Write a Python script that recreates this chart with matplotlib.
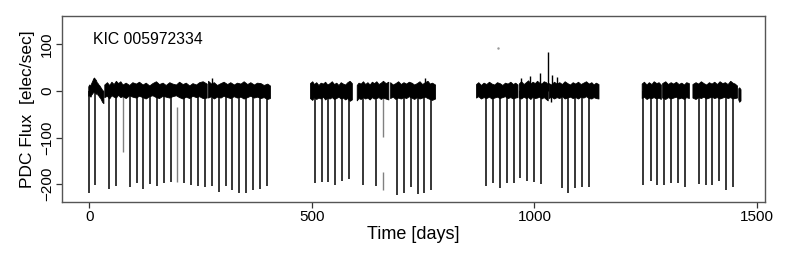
import matplotlib
matplotlib.use("Agg")
import matplotlib.pyplot as plt

plt.rcParams['font.family'] = ['Liberation Sans', 'DejaVu Sans']

# ---- data ----
LABEL = "KIC 005972334"

# noisy out-of-eclipse band: one list per observing segment
BAND_T = [
    [-2, 0, 3, 5, 7, 9, 11, 13, 15, 17, 19, 21, 23, 25, 27, 29, 32],
    [34, 40, 45, 50, 55, 60, 65, 70, 75, 82, 90, 97, 105, 112, 120, 127, 135, 142, 150, 157,
     165, 172, 180, 187, 195, 202, 210, 217, 225, 232, 240, 247, 255, 264],
    [267, 274, 280, 287, 295, 302, 310, 317, 325, 332, 340, 347, 355, 362, 370, 377, 385,
     392, 400, 406],
    [496, 501, 505, 510, 515, 520, 525, 530, 535, 540, 545, 550, 555, 560, 565, 570, 575,
     580, 585, 590],
    [601, 605, 610, 615, 620, 625, 630, 635, 640, 645, 650, 655, 660, 666, 672],
    [676, 682, 688, 694, 700, 706, 712, 718, 724, 730, 736, 742, 748, 754, 760, 765, 770, 777],
    [869, 874, 880, 886, 892, 898, 904, 910, 916, 922, 928, 934, 940, 946, 952, 957, 962],
    [965, 970, 976, 981, 986, 991, 996, 1001, 1006, 1011, 1016, 1021, 1026, 1030],
    [1032, 1038, 1044, 1050, 1056, 1062, 1068, 1074, 1080, 1086, 1092, 1098, 1104, 1110,
     1116, 1122, 1128, 1133, 1138, 1144],
    [1241, 1246, 1252, 1257, 1263, 1268, 1274, 1279, 1284],
    [1287, 1294, 1300, 1306, 1312, 1318, 1324, 1330, 1336, 1341, 1347],
    [1355, 1362, 1368, 1374, 1380, 1386, 1392, 1398, 1404, 1410, 1416, 1422, 1428, 1434,
     1440, 1445, 1450, 1455],
    [1458, 1460, 1463],
]
BAND_UP = [
    [10, 14, 13, 18, 22, 27, 29, 26, 24, 19, 17, 14, 12, 9, 6, 3, 0],
    [14, 19, 13, 20, 15, 22, 17, 21, 14, 18, 13, 19, 16, 20, 14, 18, 12, 17, 21, 15,
     18, 13, 19, 16, 14, 20, 15, 18, 12, 17, 14, 19, 21, 16],
    [22, 16, 19, 13, 17, 20, 15, 19, 14, 18, 16, 21, 15, 19, 14, 18, 17, 13, 16, 12],
    [17, 21, 15, 19, 13, 18, 16, 20, 14, 17, 21, 15, 18, 13, 19, 16, 14, 19, 22, 17],
    [13, 18, 16, 21, 15, 19, 14, 20, 17, 21, 15, 18, 22, 17, 20],
    [19, 14, 17, 21, 15, 19, 16, 20, 18, 14, 17, 21, 15, 19, 22, 16, 18, 14],
    [15, 19, 13, 18, 15, 20, 16, 14, 19, 17, 13, 18, 16, 20, 15, 18, 14],
    [16, 21, 15, 19, 23, 16, 20, 17, 22, 18, 16, 21, 19, 15],
    [17, 14, 20, 16, 19, 15, 21, 17, 14, 19, 16, 20, 15, 18, 21, 16, 19, 14, 18, 15],
    [16, 20, 14, 19, 15, 21, 17, 19, 14],
    [17, 21, 15, 19, 16, 20, 15, 18, 14, 19, 17],
    [15, 19, 16, 21, 17, 14, 19, 16, 20, 15, 21, 17, 19, 15, 22, 18, 16, 12],
    [6, 8, 4],
]
BAND_LO = [
    [-10, -9, -12, -7, -5, -2, -1, -3, -6, -4, -8, -10, -13, -15, -19, -23, -26],
    [-13, -10, -16, -9, -12, -14, -8, -13, -11, -15, -9, -12, -14, -10, -13, -16, -11, -9,
     -13, -15, -10, -12, -14, -11, -9, -13, -16, -12, -15, -10, -13, -11, -15, -14],
    [-14, -11, -16, -12, -14, -10, -13, -15, -11, -14, -12, -16, -13, -10, -14, -12, -15,
     -13, -17, -15],
    [-15, -19, -13, -17, -14, -16, -12, -18, -14, -16, -13, -17, -15, -12, -16, -14, -18,
     -15, -21, -18],
    [-20, -15, -17, -13, -16, -14, -18, -13, -16, -15, -13, -17, -14, -16, -18],
    [-15, -12, -17, -14, -16, -13, -15, -11, -14, -17, -13, -16, -14, -12, -15, -17, -19, -16],
    [-14, -11, -16, -13, -15, -12, -16, -14, -12, -15, -13, -11, -15, -13, -16, -14, -13],
    [-14, -16, -12, -15, -13, -17, -12, -15, -14, -12, -16, -13, -17, -20],
    [-15, -12, -16, -13, -15, -11, -16, -14, -12, -15, -13, -16, -12, -14, -11, -15, -16,
     -13, -15, -16],
    [-15, -12, -17, -14, -15, -13, -16, -14, -17],
    [-14, -17, -13, -16, -14, -12, -16, -14, -17, -13, -15],
    [-14, -17, -13, -15, -12, -16, -14, -12, -15, -13, -16, -14, -12, -15, -13, -16, -15, -14],
    [-18, -23, -20],
]

# eclipse minima (time, flux)
DIP_T = [-1, 14.2, 45.1, 60.3, 91.3, 107.1, 122, 137.7, 152.7, 167.7, 183.4, 214.1,
         229.8, 245.5, 260.5, 276.2, 291.2, 306.9, 321.9, 337.6, 352.6, 368.4, 384.1, 399,
         507.5, 522.5, 537.5, 553, 569, 584, 614.5, 645.2, 691, 706.7, 722.4, 738, 753, 768.8,
         891.5, 907.3, 923, 938, 953.7, 968.6, 984.3, 999.3, 1015, 1061.5, 1076.4, 1092,
         1107.8, 1122.8,
         1244.8, 1261.3, 1276.3, 1292, 1307, 1322.7, 1338.4, 1369, 1384.8, 1399.7, 1415.5,
         1430.5, 1446.2]
DIP_F = [-219, -201, -210, -203, -205, -198, -210, -199, -203, -198, -196, -198,
         -201, -203, -205, -203, -217, -203, -212, -218, -219, -212, -211, -203,
         -198, -196, -196, -201, -192, -189, -201, -203, -224, -218, -205, -221, -218, -212,
         -203, -198, -208, -198, -198, -187, -193, -196, -199, -208, -219, -208,
         -206, -205,
         -201, -192, -201, -201, -198, -198, -206, -199, -201, -201, -192,
         -212, -206]

# partially sampled eclipses (time, top flux, bottom flux), drawn grey
PART_T = [75.6, 198.4, 661, 661]
PART_TOP = [0, -34, 0, -173]
PART_BOT = [-130, -196, -98, -212]

# isolated flux spikes (time, flux)
SPIKE_T = [275.5, 754.5, 970, 990, 1012, 1030, 1036.8, 1040, 1050]
SPIKE_F = [27, 29, 27, 33, 39, 84, -23, 34, 31]

# stray single point
DOT_T = [917.5]
DOT_F = [93]

XTICKS = [0, 500, 1000, 1500]
YTICKS = [-200, -100, 0, 100]

# ---- figure ----
fig = plt.figure(figsize=(7.94, 2.59), dpi=100)
ax = fig.add_axes([62 / 794, 57 / 259, 703 / 794, 186 / 259])

for t, up, lo in zip(BAND_T, BAND_UP, BAND_LO):
    ax.fill_between(t, lo, up, color='black', linewidth=0.6, edgecolor='black', zorder=3)

ax.vlines(DIP_T, 0, DIP_F, color='black', linewidth=1.1, zorder=2)
ax.vlines(PART_T, PART_TOP, PART_BOT, color='#808080', linewidth=1.0, zorder=2)
ax.vlines(SPIKE_T, 0, SPIKE_F, color='black', linewidth=1.0, zorder=3)
ax.plot(DOT_T, DOT_F, linestyle='none', marker='.', markersize=1.5, color='#999999')

ax.set_xlim(-61, 1518)
ax.set_ylim(-238, 161)
ax.set_xticks(XTICKS)
ax.set_yticks(YTICKS)
ax.tick_params(axis='both', direction='out', length=4, width=0.9, color='#333333',
               labelsize=11, pad=1.5)
for lab in ax.get_yticklabels():
    lab.set_rotation(90)
    lab.set_va('center')

for s in ax.spines.values():
    s.set_color('#555555')
    s.set_linewidth(1.0)

ax.set_xlabel('Time [days]', fontsize=13, labelpad=2)
ax.set_ylabel('PDC Flux  [elec/sec]', fontsize=12.5, labelpad=4)
ax.text(0.0445, 0.876, LABEL, transform=ax.transAxes, fontsize=11.3,
        ha='left', va='center')

fig.savefig('out.png', dpi=100)
